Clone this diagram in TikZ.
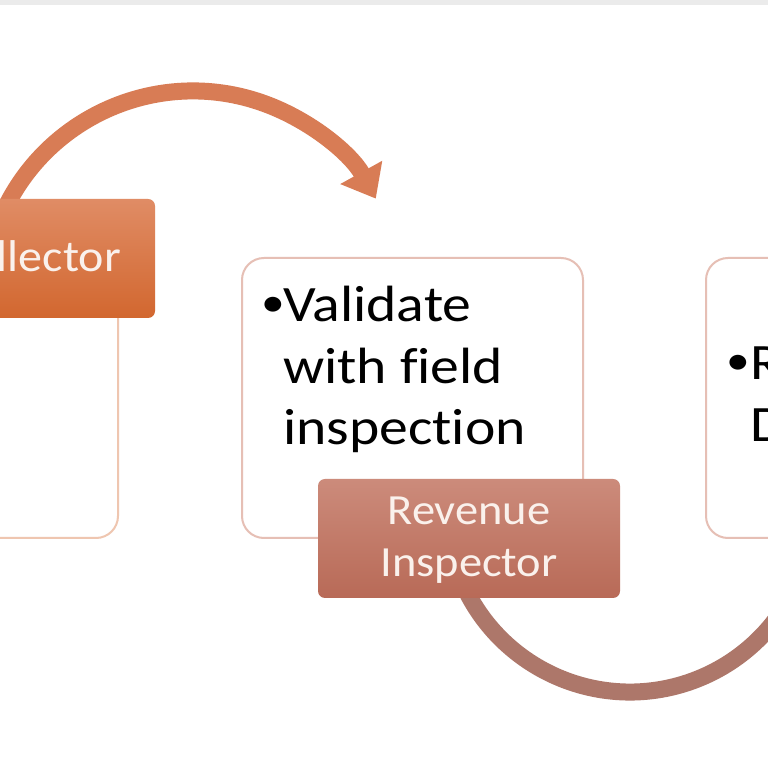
\documentclass[tikz,border=0pt]{standalone}
\usepackage{fontspec}
\setmainfont{Carlito}
\newfontfamily\boxfont[FakeStretch=1.13,Ligatures=NoCommon]{Carlito}
\newfontfamily\tagfont[FakeStretch=1.08,Ligatures=NoCommon]{Carlito}
\usetikzlibrary{arrows.meta}

\definecolor{stripgray}{HTML}{EBEBEB}
\definecolor{leftline}{HTML}{EFC6B0}
\definecolor{valline}{HTML}{E6BFB5}
\definecolor{arcorange}{HTML}{D87C55}
\definecolor{arcbrown}{HTML}{AD776A}
\definecolor{coltop}{HTML}{E08C65}
\definecolor{colbot}{HTML}{D2672F}
\definecolor{revtop}{HTML}{CC8B7B}
\definecolor{revbot}{HTML}{B86A57}
\definecolor{tagtext}{HTML}{FAF1EC}

\begin{document}
\begin{tikzpicture}[x=1bp,y=1bp]
    \tikzstyle{txtbox}=[draw, line width=2bp, rounded corners=22bp, fill=white, minimum height=280bp, inner sep=0pt]
    \tikzstyle{tagbox}=[rounded corners=7bp, minimum width=302bp, minimum height=119bp, inner sep=0pt]
    \tikzstyle{tagtxt}=[anchor=base, inner sep=0pt, text=tagtext, font=\tagfont\fontsize{43bp}{52bp}\selectfont]
    \tikzstyle{flowarc}=[line width=17bp]
    \tikzstyle{boxtext}=[anchor=base west, inner sep=0pt, font=\boxfont\fontsize{51bp}{62bp}\selectfont]
    \tikzstyle{dot}=[anchor=base west, inner sep=0pt, font=\boxfont\fontsize{42bp}{50bp}\selectfont]

    \useasboundingbox (0,0) rectangle (768,768);
    \clip (0,0) rectangle (768,768);
    \fill[white] (0,0) rectangle (768,768);
    \fill[stripgray] (0,763) rectangle (768,768);

    % left step, cut by the edge
    \node[txtbox, draw=leftline, minimum width=318bp] (colbox) at (-41,370) {};
    \coordinate (colarc) at (-3.4,539.5);
    \draw[flowarc, draw=arcorange, -{Triangle[length=30bp,width=46bp]}] (colarc) arc[start angle=160, end angle=29, radius=209];
    \node[tagbox, top color=coltop, bottom color=colbot] (coltag) at (4,509.5) {};
    \node[tagtxt, anchor=base east, font=\tagfont\fontsize{44.5bp}{52bp}\selectfont] (colname) at (121,496) {Collector};

    % middle step
    \node[txtbox, draw=valline, minimum width=341bp] (valbox) at (412.5,370) {};
    \node[dot] (valdot) at (261,451) {•};
    \foreach \txt [count=\i] in {Validate, with field, inspection}
        \node[boxtext] (val\i) at (283,446-61.5*\i+61.5) {\txt};
    \coordinate (revarc) at (458,196.4);
    \draw[flowarc, draw=arcbrown] (revarc) arc[start angle=200, end angle=345, radius=183];
    \node[tagbox, top color=revtop, bottom color=revbot] (revtag) at (469,229.5) {};
    \node[tagtxt] (revname1) at (469,243) {Revenue};
    \node[tagtxt] (revname2) at (469,191) {Inspector};

    % right step, cut by the edge
    \node[txtbox, draw=valline, minimum width=294bp] (nextbox) at (853,370) {};
    \node[dot] (nextdot) at (726,393) {•};
    \node[boxtext] (next1) at (750,388) {R};
    \node[boxtext] (next2) at (750,326) {D};
\end{tikzpicture}
\end{document}
